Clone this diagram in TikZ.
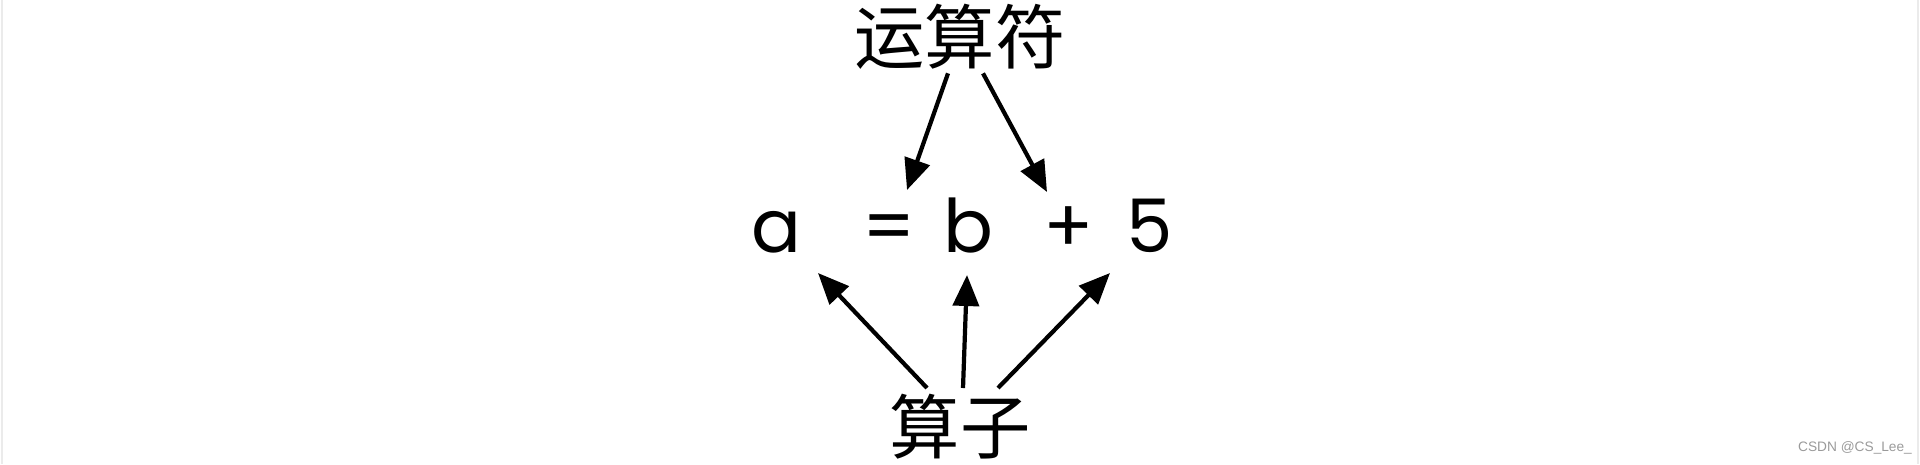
\documentclass[tikz,border=0pt]{standalone}
\usepackage{fontspec}
\newfontfamily\cjk{Noto Sans CJK SC}
\newfontfamily\geo{Poppins}
\newfontfamily\wm{Liberation Sans}
\usetikzlibrary{arrows.meta}
\definecolor{wmgray}{HTML}{9A9A9A}
\definecolor{edgegray}{HTML}{EBEBEB}

\begin{document}
\begin{tikzpicture}[>={Triangle[length=3.1mm,width=2.6mm]},
  term/.style={anchor=base,inner sep=0pt,font=\geo\fontsize{21}{25}\selectfont},
  word/.style={inner sep=0pt,font=\cjk\fontsize{20}{24}\selectfont},
  arr/.style={->,line width=1.2pt}]
\useasboundingbox (0,0) rectangle (19.2,4.64);
% faint page edges
\draw[edgegray] (0.02,0) -- (0.02,4.64);
\draw[edgegray] (19.18,0) -- (19.18,4.64);
% operator / operands labels
\node[word] (op) at (9.60,4.27) {运算符};
\node[word] (opd) at (9.60,0.37) {算子};
% the expression
\node[term] (a) at (7.76,2.12) {a};
\node[term] (eq) at (8.895,2.12) {=};
\node[term] (b) at (9.68,2.12) {b};
\node[term] (plus) at (10.685,2.12) {+};
\node[term] (five) at (11.50,2.12) {5};
% operator arrows
\draw[arr] ([shift={(-0.12,-0.03)}]op.south) -- ([shift={(0.175,0.62)}]eq.base);
\draw[arr] ([shift={(0.23,-0.03)}]op.south) -- ([shift={(-0.215,0.60)}]plus.base);
% operand arrows
\draw[arr] ([shift={(-0.33,0.39)}]opd.center) -- ([shift={(0.42,-0.21)}]a.base);
\draw[arr] ([shift={(0.03,0.39)}]opd.center) -- ([shift={(-0.01,-0.23)}]b.base);
\draw[arr] ([shift={(0.38,0.39)}]opd.center) -- ([shift={(-0.40,-0.21)}]five.base);
% watermark
\node[inner sep=0pt,text=wmgray,font=\wm\fontsize{3.9}{4.5}\selectfont] (mark) at (18.55,0.16) {CSDN @CS\_Lee\_};
\end{tikzpicture}
\end{document}
